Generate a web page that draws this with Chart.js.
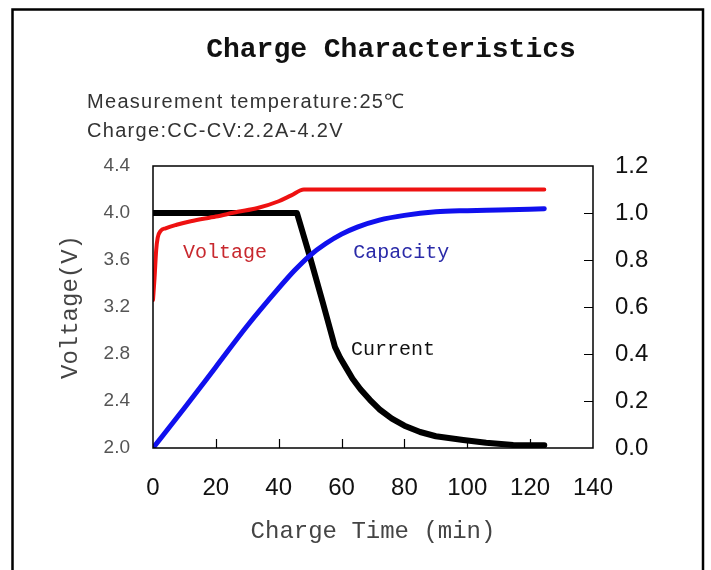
<!DOCTYPE html>
<html>
<head>
<meta charset="utf-8">
<script src="https://cdn.jsdelivr.net/npm/chart.js@4.4.1/dist/chart.umd.min.js"></script>
<style>
  html, body { margin: 0; padding: 0; background: #fff; }
  #wrap { width: 711px; height: 570px; }
</style>
</head>
<body>
<div id="wrap"><canvas id="chargeChart" width="711" height="570"></canvas></div>
<script>
// charge time (min) and readings
const voltTime = [0, 0.5, 1, 1.5, 2.5, 4, 7.5, 12, 20, 27, 33, 40, 44, 48, 124.5];
const voltage = [3.26, 3.45, 3.68, 3.79, 3.85, 3.87, 3.90, 3.93, 3.97, 4.01, 4.04, 4.10, 4.15, 4.20, 4.20];

const capTime = [0, 10, 20, 30, 40, 45, 50, 55, 60, 65, 72, 80, 90, 100, 110, 124.5];
const capacity = [0, 0.17, 0.345, 0.52, 0.68, 0.755, 0.82, 0.87, 0.91, 0.94, 0.97, 0.99, 1.005, 1.01, 1.013, 1.018];

const curTime = [0, 45.8, 50, 54, 57.9, 59.5, 61.5, 63.5, 66, 69, 72, 76, 80, 85, 90, 98.7, 106, 114.6, 124.5];
const current = [1.0, 1.0, 0.81, 0.62, 0.43, 0.385, 0.34, 0.295, 0.25, 0.205, 0.165, 0.125, 0.095, 0.068, 0.05, 0.034, 0.022, 0.013, 0.012];

const timeTicks = [0, 20, 40, 60, 80, 100, 120, 140];
const voltTicks = [2.0, 2.4, 2.8, 3.2, 3.6, 4.0, 4.4];
const rightTicks = [0.0, 0.2, 0.4, 0.6, 0.8, 1.0, 1.2];

const titleText = 'Charge Characteristics';
const notes = ['Measurement temperature:25\u2103', 'Charge:CC-CV:2.2A-4.2V'];

// in-plot curve labels: [text, time, value, axis, colour]
const curveLabels = [
  ['Voltage', 22.9, 3.66, 'y', '#c8282e'],
  ['Capacity', 79, 0.83, 'y1', '#2a2aa8'],
  ['Current', 76.4, 0.417, 'y1', '#111']
];

const pts = (xs, ys) => xs.map((x, i) => ({ x: x, y: ys[i] }));
const monoFont = '"Liberation Mono", "DejaVu Sans Mono", monospace';
const sansFont = '"Liberation Sans", Arial, sans-serif';

const decor = {
  id: 'decor',
  afterDraw(chart) {
    const ctx = chart.ctx;
    const a = chart.chartArea;
    const sx = chart.scales.x, sy1 = chart.scales.y1;
    ctx.save();
    // outer frame
    ctx.strokeStyle = '#000';
    ctx.lineWidth = 2.5;
    ctx.strokeRect(12.5, 9.5, 690.5, 600);
    // plot box
    ctx.lineWidth = 1.5;
    ctx.strokeRect(a.left, a.top, a.right - a.left, a.bottom - a.top);
    // inward tick marks
    ctx.beginPath();
    timeTicks.slice(1, -1).forEach(t => {
      const px = Math.round(sx.getPixelForValue(t)) + 0.5;
      ctx.moveTo(px, a.bottom);
      ctx.lineTo(px, a.bottom - 9);
    });
    rightTicks.slice(1, -1).forEach(v => {
      const py = Math.round(sy1.getPixelForValue(v)) + 0.5;
      ctx.moveTo(a.right, py);
      ctx.lineTo(a.right - 9, py);
    });
    ctx.lineWidth = 1.2;
    ctx.stroke();

    // title and notes
    ctx.fillStyle = '#111';
    ctx.font = 'bold 28px ' + monoFont;
    ctx.textAlign = 'center';
    ctx.textBaseline = 'alphabetic';
    ctx.fillText(titleText, 391, 57);
    ctx.fillStyle = '#333';
    ctx.font = '20px ' + sansFont;
    ctx.textAlign = 'left';
    ctx.letterSpacing = '1.3px';
    ctx.fillText(notes[0], 87, 108);
    ctx.fillText(notes[1], 87, 137);
    ctx.letterSpacing = '0px';

    // curve labels
    ctx.font = '20px ' + monoFont;
    ctx.textAlign = 'center';
    ctx.textBaseline = 'middle';
    curveLabels.forEach(([txt, t, v, ax, col]) => {
      ctx.fillStyle = col;
      ctx.fillText(txt, sx.getPixelForValue(t), chart.scales[ax].getPixelForValue(v));
    });
    ctx.restore();
  }
};

const lineBase = { pointRadius: 0, fill: false, borderCapStyle: 'round', borderJoinStyle: 'round' };

new Chart(document.getElementById('chargeChart').getContext('2d'), {
  type: 'line',
  data: {
    datasets: [
      Object.assign({ label: 'Voltage', data: pts(voltTime, voltage), borderColor: '#ee1111', borderWidth: 4, yAxisID: 'y', cubicInterpolationMode: 'monotone' }, lineBase),
      Object.assign({ label: 'Capacity', data: pts(capTime, capacity), borderColor: '#1010ee', borderWidth: 5, yAxisID: 'y1', cubicInterpolationMode: 'monotone' }, lineBase),
      Object.assign({ label: 'Current', data: pts(curTime, current), borderColor: '#000', borderWidth: 6, yAxisID: 'y1', tension: 0 }, lineBase)
    ]
  },
  options: {
    responsive: false,
    animation: false,
    layout: { padding: { left: 56, top: 166, right: 0, bottom: 24 } },
    plugins: { legend: { display: false }, tooltip: { enabled: false } },
    scales: {
      x: {
        type: 'linear',
        min: 0,
        max: 140,
        afterBuildTicks: s => { s.ticks = timeTicks.map(v => ({ value: v })); },
        afterFit: s => { s.height = 98; },
        grid: { display: false, drawTicks: false },
        border: { display: false },
        ticks: { padding: 26, color: '#111', font: { family: sansFont, size: 24 }, maxRotation: 0 },
        title: { display: true, text: 'Charge Time (min)', color: '#444', font: { family: monoFont, size: 24 }, padding: 0 }
      },
      y: {
        position: 'left',
        min: 2.0,
        max: 4.4,
        afterBuildTicks: s => { s.ticks = voltTicks.map(v => ({ value: v })); },
        afterFit: s => { s.width = 97; },
        grid: { display: false, drawTicks: false },
        border: { display: false },
        ticks: { padding: 23, color: '#555', font: { family: sansFont, size: 19 }, callback: v => v.toFixed(1) },
        title: { display: true, text: 'Voltage(V)', color: '#444', font: { family: monoFont, size: 24 }, padding: 0 }
      },
      y1: {
        position: 'right',
        min: 0,
        max: 1.2,
        afterBuildTicks: s => { s.ticks = rightTicks.map(v => ({ value: v })); },
        afterFit: s => { s.width = 118; },
        grid: { display: false, drawTicks: false },
        border: { display: false },
        ticks: { padding: 22, color: '#111', font: { family: sansFont, size: 24 }, callback: v => v.toFixed(1) }
      }
    }
  },
  plugins: [decor]
});
</script>
</body>
</html>
